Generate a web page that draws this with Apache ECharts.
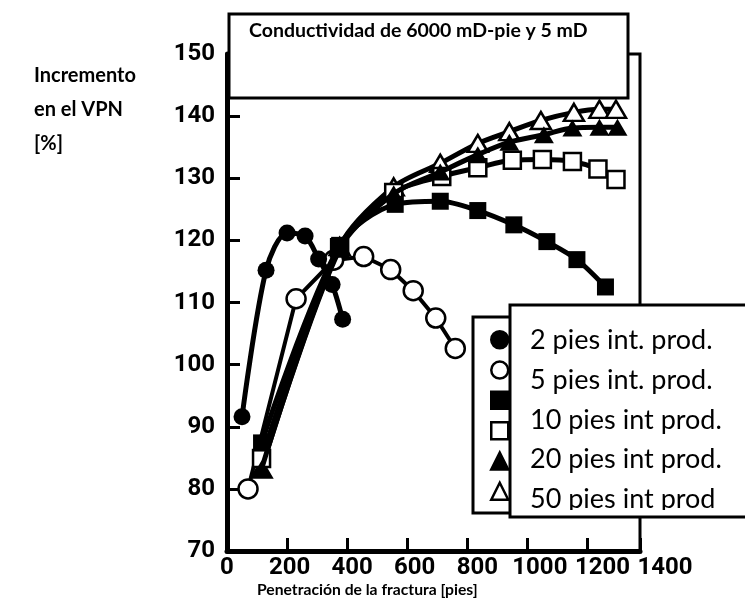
<!DOCTYPE html>
<html><head><meta charset="utf-8">
<script src="https://cdn.jsdelivr.net/npm/echarts@6.0.0/dist/echarts.min.js"></script>
<style>html,body{margin:0;padding:0;background:#fff}#c{width:745px;height:614px}</style>
</head><body><div id="c"></div>
<script>
// ---- data ----
const xTickLabels = [0, 200, 400, 600, 800, 1000, 1200, 1400];
const yTickLabels = [70, 80, 90, 100, 110, 120, 130, 140, 150];
const legendLabels = ['2 pies int. prod.', '5 pies int. prod.', '10 pies int prod.', '20 pies int prod.', '50 pies int prod'];
const sixthName = 'serie △';
const chartTitle = 'Conductividad de 6000 mD-pie y 5 mD';
const yTitle = 'Incremento\nen el VPN\n[%]';
const xTitle = 'Penetración de la fractura [pies]';

const s2 = [[50, 91.6], [130, 115.2], [200, 121.2], [260, 120.7], [305, 117.0], [350, 112.9], [385, 107.3]];
const s5 = [[70, 80.0], [230, 110.6], [355, 116.8], [455, 117.4], [545, 115.3], [620, 111.9], [695, 107.5], [760, 102.6]];
const s10 = [[115, 87.4], [375, 119.2], [560, 125.8], [710, 126.3], [835, 124.8], [955, 122.5], [1065, 119.8], [1165, 116.9], [1260, 112.5]];
const s20 = [[115, 84.9], [375, 118.8], [555, 127.7], [715, 130.3], [835, 131.7], [950, 132.9], [1050, 133.0], [1150, 132.7], [1235, 131.5], [1295, 129.8]];
const s50 = [[115, 83.2], [375, 118.6], [555, 127.5], [710, 131.0], [835, 133.8], [940, 135.8], [1055, 137.0], [1150, 138.1], [1240, 138.2], [1300, 138.2]];
const s6 = [[115, 83.2], [375, 119.0], [555, 128.6], [710, 132.4], [835, 135.6], [940, 137.5], [1045, 139.3], [1155, 140.6], [1240, 141.1], [1295, 141.1]];

// ---- chart ----
const tickFont = "Roboto,'Liberation Sans',sans-serif";
const labFont = "Lato,'Open Sans',sans-serif";
function mk(name, data, symbol, size, filled, lw, smooth, z) {
  return {
    name, type: 'line', data, symbol, symbolSize: size, smooth, z,
    xAxisIndex: 0, yAxisIndex: 0,
    lineStyle: {color: '#000', width: lw},
    itemStyle: {color: filled ? '#000' : '#fff', borderColor: '#000', borderWidth: filled ? 0 : 2.5},
    emphasis: {disabled: true}, animation: false
  };
}
const series = [
  mk(legendLabels[1], s5, 'circle', 19, false, 4, false, 2),
  mk(legendLabels[0], s2, 'circle', 17, true, 5, 0.3, 3),
  mk(sixthName, s6, 'triangle', [20, 17], false, 5, 0.3, 4),
  mk(legendLabels[3], s20, 'rect', 17, false, 5, 0.3, 5),
  mk(legendLabels[4], s50, 'triangle', [20, 17], true, 5, 0.3, 6),
  mk(legendLabels[2], s10, 'rect', 17, true, 5, 0.3, 7)
];
const chart = echarts.init(document.getElementById('c'), null, {renderer: 'canvas'});
chart.setOption({
  animation: false,
  backgroundColor: '#fff',
  title: [
    {text: chartTitle, left: 249, top: 21, z: 20, padding: 0,
     textStyle: {fontFamily: labFont, fontWeight: 'bold', fontSize: 19.5, color: '#000'}},
    {text: yTitle, left: 34, top: 59, padding: 0,
     textStyle: {fontFamily: labFont, fontWeight: 'bold', fontSize: 20, lineHeight: 34, color: '#000'}},
    {text: xTitle, left: 257, top: 582, padding: 0,
     textStyle: {fontFamily: labFont, fontWeight: 'bold', fontSize: 15.7, color: '#000'}}
  ],
  grid: [
    {left: 227, top: 54, width: 413, height: 497, show: true, borderColor: '#000', borderWidth: 3, backgroundColor: 'transparent'},
    {left: 227, top: 54, width: 438, height: 497, show: false}
  ],
  xAxis: [
    {type: 'value', gridIndex: 0, min: xTickLabels[0], max: 1375, interval: 200,
     axisLine: {show: true, lineStyle: {color: '#000', width: 5}},
     axisTick: {show: true, inside: true, length: 13, lineStyle: {color: '#000', width: 3}},
     axisLabel: {show: false}, splitLine: {show: false}},
    {type: 'value', gridIndex: 1, min: xTickLabels[0], max: xTickLabels[xTickLabels.length - 1], interval: 200,
     axisLine: {show: false}, axisTick: {show: false}, splitLine: {show: false},
     axisLabel: {show: true, margin: 5, showMaxLabel: true, showMinLabel: true, hideOverlap: false,
       formatter: v => String(v),
       fontFamily: tickFont, fontWeight: 'bold', fontSize: 24, color: '#000'}}
  ],
  yAxis: [
    {type: 'value', gridIndex: 0, min: yTickLabels[0], max: yTickLabels[yTickLabels.length - 1], interval: 10,
     axisLine: {show: true, lineStyle: {color: '#000', width: 5}},
     axisTick: {show: true, inside: true, length: 13, lineStyle: {color: '#000', width: 3}},
     axisLabel: {show: true, margin: 12, formatter: v => String(v),
       fontFamily: tickFont, fontWeight: 'bold', fontSize: 24, color: '#000'},
     splitLine: {show: false}},
    {type: 'value', gridIndex: 1, show: false, min: 70, max: 150}
  ],
  legend: [
    {data: [
      {name: legendLabels[0], icon: 'circle'},
      {name: legendLabels[1], icon: 'circle'},
      {name: legendLabels[2], icon: 'rect'},
      {name: legendLabels[3], icon: 'rect'},
      {name: legendLabels[4], icon: 'triangle'},
      {name: sixthName, icon: 'triangle'}],
     orient: 'vertical', left: 490, top: 330, padding: 0, itemWidth: 17, itemHeight: 17, itemGap: 10.8,
     itemStyle: {borderWidth: 2.5}, formatter: () => '', textStyle: {fontSize: 6, lineHeight: 6}, z: 12,
     selectedMode: false},
    {data: legendLabels, orient: 'vertical', left: 524, top: 327, padding: 0, itemWidth: 0, itemHeight: 0,
     itemGap: 12.75, icon: 'rect', selectedMode: false, z: 16,
     textStyle: {fontFamily: labFont, fontSize: 27, lineHeight: 27, color: '#000'}}
  ],
  graphic: [
    {type: 'rect', z: 10, shape: {x: 229, y: 14, width: 399, height: 84}, style: {fill: '#fff', stroke: '#000', lineWidth: 3}},
    {type: 'rect', z: 10, shape: {x: 473, y: 317, width: 60, height: 196}, style: {fill: '#fff', stroke: '#000', lineWidth: 3}},
    {type: 'rect', z: 14, shape: {x: 510, y: 305, width: 260, height: 212}, style: {fill: '#fff', stroke: null}},
    {type: 'rect', z: 18, shape: {x: 512, y: 510, width: 250, height: 8}, style: {fill: '#fff'}},
    {type: 'rect', z: 19, shape: {x: 510, y: 305, width: 260, height: 212}, style: {fill: null, stroke: '#000', lineWidth: 3}}
  ],
  series
});
</script></body></html>
